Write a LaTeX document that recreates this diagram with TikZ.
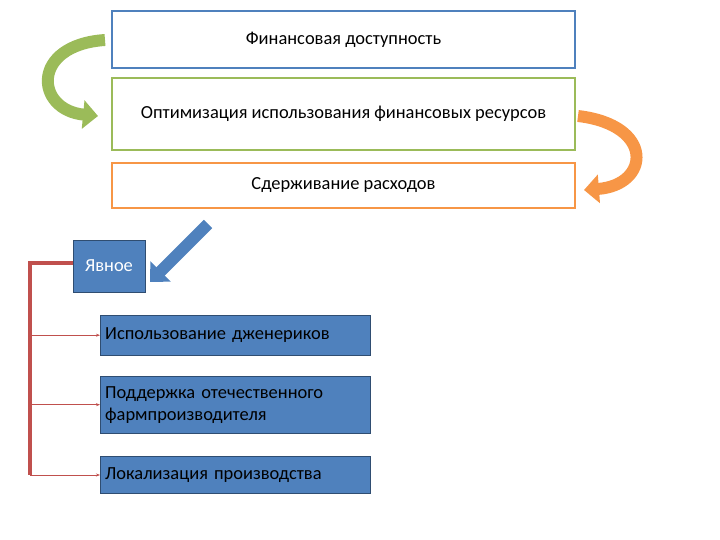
\documentclass[tikz,border=0pt]{standalone}
\usepackage{fontspec}
\setmainfont{Carlito}
\usetikzlibrary{arrows.meta}
\begin{document}
\begin{tikzpicture}[x=1bp,y=-1bp,
  every node/.style={font=\fontsize{18.5}{22}\selectfont},
  frame/.style={draw, line width=1.2pt, fill=white, minimum width=463bp, inner sep=0pt},
  item/.style={anchor=north west, minimum width=270bp, inner sep=5bp, text width=260bp, align=left},
  fat/.style={line width=12pt, -{Triangle[width=28pt,length=15pt]}}]
  \useasboundingbox (0,0) rectangle (720,540);

  \definecolor{boxblue}{HTML}{4F81BD}
  \definecolor{boxgreen}{HTML}{9BBB59}
  \definecolor{boxorange}{HTML}{F79646}
  \definecolor{bracket}{HTML}{C0504D}

  \node[frame, draw=boxblue, minimum height=57bp] (access) at (343.5,39.5) {Финансовая доступность};
  \node[frame, draw=boxgreen, minimum height=72bp] (optim) at (343.5,114) {Оптимизация использования финансовых ресурсов};
  \node[frame, draw=boxorange, minimum height=45bp] (costs) at (343.5,185.5) {Сдерживание расходов};

  \node[draw=boxblue!60!black, fill=boxblue, text=white, minimum width=72bp, minimum height=52bp] (explicit) at (109,266) {Явное};

  \node[item, draw=boxblue!60!black, fill=boxblue, minimum height=40bp] (generic) at (100,315) {Использование дженериков};
  \node[item, draw=boxblue!60!black, fill=boxblue, minimum height=57bp] (domestic) at (100,376) {Поддержка отечественного\\фармпроизводителя};
  \node[item, draw=boxblue!60!black, fill=boxblue, minimum height=37bp] (local) at (100,456) {Локализация производства};

  % curved arrows
  \draw[fat, draw=boxgreen] (105,40) .. controls (30,45) and (35,110) .. (98,116);
  \draw[fat, draw=boxorange] (578,116) .. controls (655,125) and (650,185) .. (584,190);
  \draw[fat, draw=boxblue] (208,224) -- (150,282);

  % bracket
  \coordinate (top) at (30,263);
  \coordinate (bottom) at (30,475);
  \draw[bracket, line width=4pt] (explicit.west |- top) -- (top) -- (bottom);
  \foreach \n in {generic,domestic} \draw[bracket, line width=0.6pt, -{Stealth[length=4pt]}] (30,0 |- \n.west) -- (\n.west);
  \draw[bracket, line width=0.6pt, -{Stealth[length=4pt]}] (bottom) -- (bottom -| local.west);
\end{tikzpicture}
\end{document}
